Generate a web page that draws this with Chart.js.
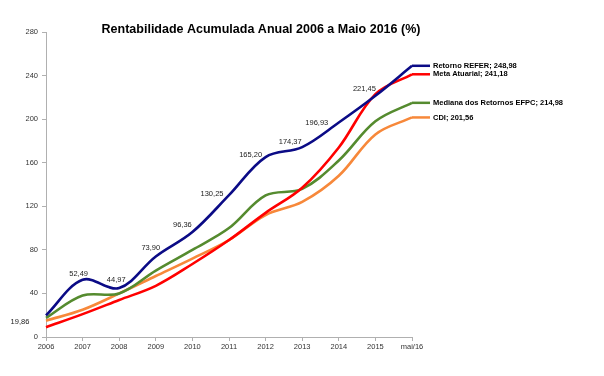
<!DOCTYPE html>
<html>
<head>
<meta charset="utf-8">
<script src="https://cdn.jsdelivr.net/npm/chart.js@4"></script>
<style>
  html, body { margin: 0; padding: 0; background: #fff; }
  #wrap { width: 604px; height: 376px; }
</style>
</head>
<body>
<div id="wrap"><canvas id="rentChart" width="604" height="376"></canvas></div>
<script>
// dados
const periodos = ['2006', '2007', '2008', '2009', '2010', '2011', '2012', '2013', '2014', '2015', 'mai/16'];
const retornoRefer = [19.86, 52.49, 44.97, 73.90, 96.36, 130.25, 165.20, 174.37, 196.93, 221.45, 248.98];
const metaAtuarial = [9, 21, 34, 47, 67, 89, 114, 137, 174, 223, 241.18];
const medianaEfpc = [17.5, 38, 40, 61, 80, 100, 130, 136, 162, 198, 214.98];
const cdi = [15, 25, 40, 56, 72, 89, 112, 124, 148, 186, 201.56];
const nomes = ['Retorno REFER', 'Meta Atuarial', 'Mediana dos Retornos EFPC', 'CDI'];
const yMax = 280;
const yStep = 40;
const titulo = 'Rentabilidade Acumulada Anual 2006 a Maio 2016 (%)';

// deslocamento dos rotulos do Retorno REFER (centro do texto em relacao ao ponto)
const rotuloDesloc = [[-26, 7], [-4, -6], [-3, -8], [-5, -9], [-10, -7], [-17, -1], [-15, -2], [-12, -5], [-22, 0], [-11, -7]];

const cores = ['#0b0b86', '#ff0000', '#558b2f', '#f7883a'];

function fmt(v) {
    return v.toFixed(2).replace('.', ',');
}

const extras = {
    id: 'extras',
    afterDatasetsDraw(chart) {
        const ctx = chart.ctx;
        ctx.save();
        // titulo
        ctx.fillStyle = '#000';
        ctx.font = 'bold 12.5px "Liberation Sans", Arial, sans-serif';
        ctx.textAlign = 'center';
        ctx.textBaseline = 'middle';
        ctx.fillText(titulo, 261, 30);

        // rotulos de valor do Retorno REFER
        const meta0 = chart.getDatasetMeta(0);
        ctx.font = '7.5px "Liberation Sans", Arial, sans-serif';
        ctx.fillStyle = '#222';
        for (let i = 0; i < retornoRefer.length - 1; i++) {
            const p = meta0.data[i];
            const d = rotuloDesloc[i];
            ctx.fillText(fmt(retornoRefer[i]), p.x + d[0], p.y + d[1]);
        }

        // linhas guia e nomes das series no fim
        ctx.font = 'bold 7.5px "Liberation Sans", Arial, sans-serif';
        ctx.textAlign = 'left';
        chart.data.datasets.forEach((ds, k) => {
            const meta = chart.getDatasetMeta(k);
            const last = meta.data[meta.data.length - 1];
            ctx.strokeStyle = cores[k];
            ctx.lineWidth = 2.5;
            ctx.beginPath();
            ctx.moveTo(last.x, last.y);
            ctx.lineTo(last.x + 18, last.y);
            ctx.stroke();
            ctx.fillStyle = '#000';
            ctx.fillText(nomes[k] + '; ' + fmt(ds.data[ds.data.length - 1]), last.x + 21, last.y);
        });
        ctx.restore();
    }
};

const series = [retornoRefer, metaAtuarial, medianaEfpc, cdi];

new Chart(document.getElementById('rentChart'), {
    type: 'line',
    data: {
        labels: periodos,
        datasets: series.map((s, k) => ({
            label: nomes[k],
            data: s,
            borderColor: cores[k],
            backgroundColor: cores[k],
            borderWidth: 2.6,
            pointRadius: 0,
            tension: 0.35,
            fill: false
        }))
    },
    options: {
        responsive: false,
        animation: false,
        layout: { padding: { top: 32, right: 192, left: 0, bottom: 0 } },
        plugins: {
            legend: { display: false },
            tooltip: { enabled: false }
        },
        scales: {
            x: {
                offset: false,
                grid: { display: true, drawOnChartArea: false, tickLength: 4, color: '#b0b0b0' },
                border: { color: '#b0b0b0' },
                ticks: {
                    color: '#333',
                    font: { size: 7.5, family: '"Liberation Sans", Arial, sans-serif' },
                    maxRotation: 0,
                    autoSkip: false,
                    padding: 1
                },
                afterFit(scale) { scale.height = 39; }
            },
            y: {
                min: 0,
                max: yMax,
                grid: { display: true, drawOnChartArea: false, tickLength: 4, color: '#b0b0b0' },
                border: { color: '#b0b0b0' },
                ticks: {
                    stepSize: yStep,
                    color: '#333',
                    font: { size: 7.5, family: '"Liberation Sans", Arial, sans-serif' },
                    padding: 4
                },
                afterFit(scale) { scale.width = 46; }
            }
        }
    },
    plugins: [extras]
});
</script>
</body>
</html>
